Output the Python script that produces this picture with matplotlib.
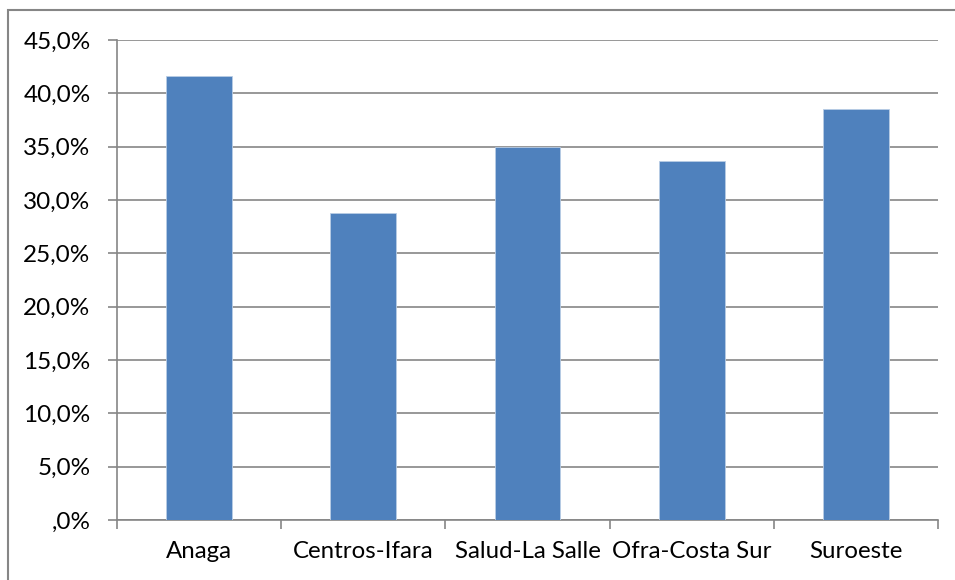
import matplotlib
matplotlib.use("Agg")
import matplotlib.pyplot as plt
from matplotlib.patches import Rectangle
from matplotlib.ticker import FuncFormatter, FixedLocator

categories = ["Anaga", "Centros-Ifara", "Salud-La Salle", "Ofra-Costa Sur", "Suroeste"]
values = [41.6, 28.8, 35.0, 33.7, 38.5]
y_ticks = [0, 5, 10, 15, 20, 25, 30, 35, 40, 45]

W, H = 955, 580
fig = plt.figure(figsize=(W / 100, H / 100), dpi=100)
plt.rcParams["font.family"] = ["Lato", "DejaVu Sans"]

grey = "#868686"
bar_color = "#4F81BD"

# chart frame
fig.patches.append(Rectangle((8 / W, -0.1), 1.2, (H - 10) / H + 0.1,
                             transform=fig.transFigure, fill=False,
                             edgecolor=grey, linewidth=1.5))

ax = fig.add_axes([117 / W, 60 / H, (938 - 117) / W, 480 / H])
x = list(range(len(categories)))
ax.bar(x, values, width=0.4, color=bar_color, edgecolor="#b9cde5",
       linewidth=0.6, zorder=3)

ax.set_xlim(-0.5, len(categories) - 0.5)
ax.set_ylim(0, 45)
ax.set_yticks(y_ticks)


def pct(v, pos):
    s = ("%.1f%%" % v).replace(".", ",")
    return s[1:] if v == 0 else s


ax.yaxis.set_major_formatter(FuncFormatter(pct))
ax.grid(axis="y", color=grey, linewidth=1.2, zorder=0)
ax.set_axisbelow(True)

ax.set_xticks(x)
ax.set_xticklabels(categories)
ax.xaxis.set_minor_locator(FixedLocator([i - 0.5 for i in range(len(categories) + 1)]))
ax.tick_params(axis="x", which="major", length=0, pad=15, labelsize=17.3)
ax.tick_params(axis="x", which="minor", length=6.5, width=1.2, color=grey, direction="out")
ax.tick_params(axis="y", length=6.5, width=1.2, color=grey, pad=12.5, labelsize=17.5)

for side in ["top", "right"]:
    ax.spines[side].set_visible(False)
for side in ["left", "bottom"]:
    ax.spines[side].set_color(grey)
    ax.spines[side].set_linewidth(1.2)

fig.savefig("out.png", dpi=100)
